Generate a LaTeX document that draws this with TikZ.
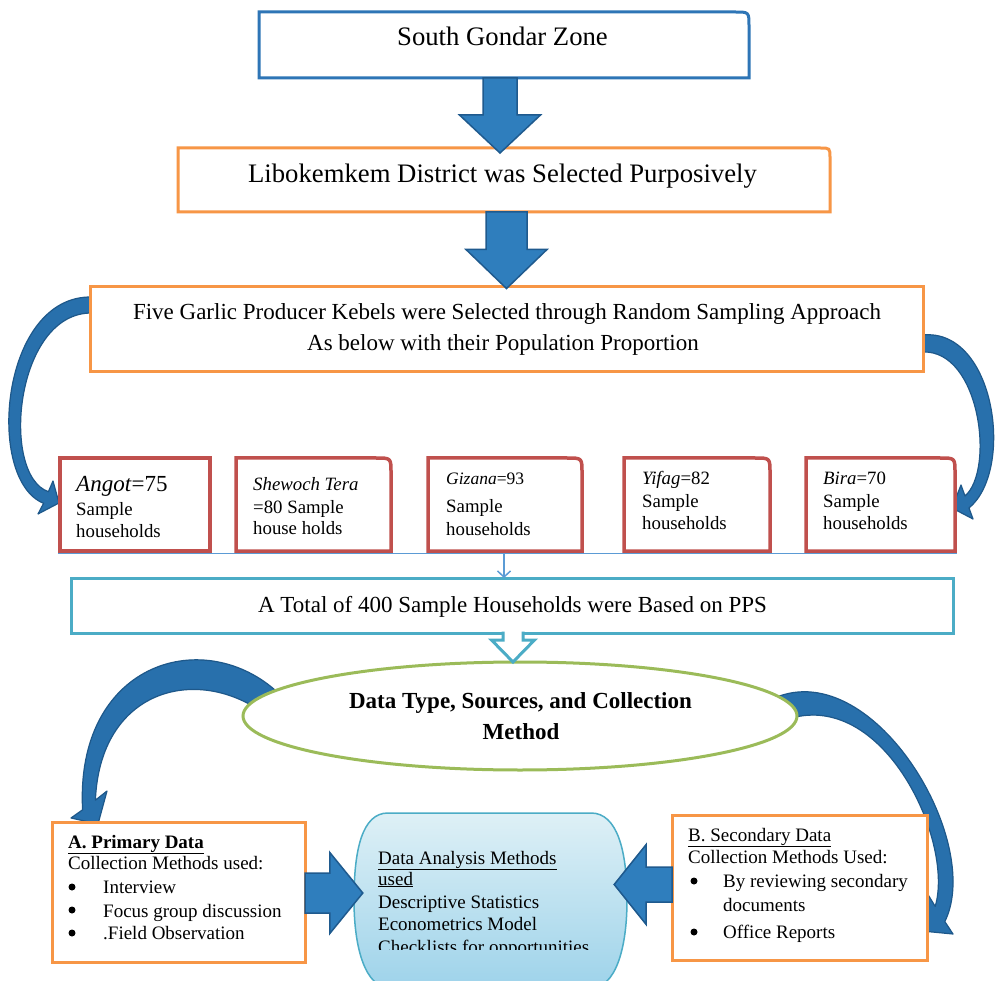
\documentclass[tikz,border=0pt]{standalone}
\usepackage{fontspec}
\setmainfont{Liberation Serif}
\usetikzlibrary{calc,shapes.geometric,arrows.meta}
\definecolor{cBlue}{RGB}{46,117,182}
\definecolor{cOrange}{RGB}{247,150,70}
\definecolor{cRed}{RGB}{192,80,77}
\definecolor{cCyan}{RGB}{75,172,198}
\definecolor{cGreen}{RGB}{155,187,89}
\definecolor{cArrFill}{RGB}{47,126,189}
\definecolor{cArrEdge}{RGB}{31,90,142}
\definecolor{cCurve}{RGB}{40,112,172}
\definecolor{cCurveEdge}{RGB}{30,88,138}
\definecolor{cThin}{RGB}{91,155,213}
\definecolor{cDaTop}{RGB}{222,240,246}
\definecolor{cDaBot}{RGB}{158,211,234}
\newcommand\fsBig{\fontsize{26.7}{32}\selectfont}
\newcommand\fsMid{\fontsize{23}{28}\selectfont}
\newcommand\fsSm{\fontsize{18.8}{22}\selectfont}
\newcommand\fsTx{\fontsize{19}{23}\selectfont}
\newcommand\blkdown[5]{%
 \filldraw[blkarrow] let \p1=(#1), \p2=(#2) in
 (\x2-#3,\y1) -- (\x2-#3,\y2+#5) -- (\x2-#4,\y2+#5) -- (\x2,\y2)
 -- (\x2+#4,\y2+#5) -- (\x2+#3,\y2+#5) -- (\x2+#3,\y1) -- cycle;}
\newcommand\blkright[5]{%
 \filldraw[blkarrow] let \p1=(#1), \p2=(#2) in
 (\x1,\y2+#3) -- (\x2-#5,\y2+#3) -- (\x2-#5,\y2+#4) -- (\x2,\y2)
 -- (\x2-#5,\y2-#4) -- (\x2-#5,\y2-#3) -- (\x1,\y2-#3) -- cycle;}
\newcommand\blkleft[5]{%
 \filldraw[blkarrow] let \p1=(#1), \p2=(#2) in
 (\x1,\y2+#3) -- (\x2+#5,\y2+#3) -- (\x2+#5,\y2+#4) -- (\x2,\y2)
 -- (\x2+#5,\y2-#4) -- (\x2+#5,\y2-#3) -- (\x1,\y2-#3) -- cycle;}
\newcommand\trborder[3]{%
 \draw[#2] (#1.south west) -- (#1.north west) -- ($(#1.north east)+(-#3,0)$)
 .. controls (#1.north east) .. ($(#1.north east)+(0,#3)$) -- (#1.south east) -- cycle;}
\begin{document}
\begin{tikzpicture}[x=1pt,y=-1pt,
  boxnode/.style={inner sep=0,outer sep=0,fill=white},
  blkarrow/.style={fill=cArrFill,draw=cArrEdge,line width=1.5,line join=miter},
  curvearrow/.style={fill=cCurve,draw=cCurveEdge,line width=1.2,line join=round},
  txt/.style={inner sep=0,anchor=base west},
  ctxt/.style={inner sep=0,anchor=base},
  bul/.style={circle,fill=black,inner sep=0,minimum size=7}]
\fill[white] (0,0) rectangle (999,981);
\useasboundingbox (0,0) rectangle (999,981);

% curved arrows from kebele box (drawn first, box covers their start)
\path[curvearrow] (92,297) .. controls (0,295) and (-15,480) .. (43.6,503.3)
  -- (38,514) -- (59,503) -- (53,481) -- (48.4,491.7)
  .. controls (0,475) and (15,312) .. (92,313) -- cycle;
\path[curvearrow] (923,335) .. controls (995,328) and (1015,470) .. (969,508)
  -- (973,519) -- (952,508) -- (961,485) -- (965,496)
  .. controls (995,470) and (980,350) .. (923,352) -- cycle;
% curved arrows from ellipse
\path[curvearrow] (275,690) .. controls (200,625) and (75,665) .. (82.6,809.8)
  -- (71,818) -- (98,824) -- (107,791) -- (95.4,800.2)
  .. controls (100,690) and (195,665) .. (262,712) -- cycle;
\path[curvearrow] (770,700) .. controls (870,650) and (985,840) .. (944.8,921.6)
  -- (953,934) -- (922,931) -- (927,893) -- (935.2,906.4)
  .. controls (955,840) and (880,680) .. (780,722) -- cycle;

% top boxes
\node[boxnode,minimum width=490,minimum height=66] (b1) at (504,45) {};
\trborder{b1}{cBlue,line width=3}{14}
\node[ctxt] (b1t) at (502.5,46) {\fsBig South Gondar Zone};

\node[boxnode,minimum width=652,minimum height=64] (b2) at (504,180) {};
\trborder{b2}{cOrange,line width=3}{10}
\node[ctxt] (b2t) at (502.5,183) {\fsBig Libokemkem District was Selected Purposively};

\node[boxnode,draw=cOrange,line width=3,minimum width=833,minimum height=85] (b3) at (506.5,329.5) {};
\node[ctxt] (b3t1) at (507,320) {\fsMid Five Garlic Producer Kebels were Selected through Random Sampling Approach};
\node[ctxt] (b3t2) at (503,351) {\fsMid As below with their Population Proportion};

\blkdown{b1.south}{$(b2.north)+(-4,5)$}{17}{40.5}{38}
\blkdown{b2.south}{$(b3.north)+(0,1.5)$}{20.5}{40.5}{39}

% kebele boxes
\node[boxnode,draw=cRed,line width=3.5,minimum width=150,minimum height=93] (k1) at (135,504.5) {};
\node[boxnode,minimum width=155,minimum height=93] (k2) at (313.5,504.5) {};
\trborder{k2}{cRed,line width=3.5}{15}
\node[boxnode,minimum width=154,minimum height=93] (k3) at (505,504.5) {};
\trborder{k3}{cRed,line width=3.5}{15}
\node[boxnode,minimum width=146,minimum height=93] (k4) at (697,504.5) {};
\trborder{k4}{cRed,line width=3.5}{15}
\node[boxnode,minimum width=149,minimum height=93] (k5) at (880.5,504.5) {};
\trborder{k5}{cRed,line width=3.5}{15}

\node[txt] (k1a) at (76,492) {\fsMid\textit{Angot}=75};
\node[txt] (k1b) at (76,515) {\fsSm Sample};
\node[txt] (k1c) at (76,537) {\fsSm households};
\node[txt] (k2a) at (253,490) {\fsSm\textit{Shewoch Tera}};
\node[txt] (k2b) at (253,513) {\fsSm =80 Sample};
\node[txt] (k2c) at (253,534) {\fsSm house holds};
\node[txt] (k3a) at (446,485) {\fontsize{17.5}{21}\selectfont\textit{Gizana}=93};
\node[txt] (k3b) at (446,512) {\fsSm Sample};
\node[txt] (k3c) at (446,535) {\fsSm households};
\node[txt] (k4a) at (642,485) {\fsSm\textit{Yifag}=82};
\node[txt] (k4b) at (642,507) {\fsSm Sample};
\node[txt] (k4c) at (642,529) {\fsSm households};
\node[txt] (k5a) at (823,485) {\fsSm\textit{Bira}=70};
\node[txt] (k5b) at (823,507) {\fsSm Sample};
\node[txt] (k5c) at (823,529) {\fsSm households};

% PPS box and thin connector
\node[boxnode,draw=cCyan,line width=3,minimum width=882,minimum height=55] (pps) at (512,605.5) {};
\node[ctxt] (ppst) at (512.5,612) {\fsMid A Total of 400 Sample Households were Based on PPS};
\coordinate (jn) at (504,553.5);
\draw[cThin,line width=1.5] ($(k1.south west)+(-2,2.5)$) -- ($(k5.south east)+(2,2.5)$);
\draw[cThin,line width=1.5,-{Straight Barb[length=6pt,width=13pt]}] (jn) -- (jn |- pps.north);

% ellipse
\node[ellipse,draw=cGreen,line width=3,fill=white,inner sep=0,minimum width=554,minimum height=108] (el) at (520,716) {};
\node[ctxt] (elt1) at (520.5,708) {\fsMid\bfseries Data Type, Sources, and Collection};
\node[ctxt] (elt2) at (521,739) {\fsMid\bfseries Method};

% hollow arrow PPS -> ellipse
\path[fill=white] let \p1=($(pps.south)+(1,-3)$), \p2=($(pps.south |- el.north)+(1,1.5)$) in
  (\x2-10,\y1) -- (\x2-10,\y2+22) -- (\x2-21.5,\y2+22) -- (\x2,\y2)
  -- (\x2+21.5,\y2+22) -- (\x2+10,\y2+22) -- (\x2+10,\y1) -- cycle;
\draw[cCyan,line width=3,line join=miter] let \p1=($(pps.south)+(1,-1.5)$), \p2=($(pps.south |- el.north)+(1,1.5)$) in
  (\x2-10,\y1) -- (\x2-10,\y2+22) -- (\x2-21.5,\y2+22) -- (\x2,\y2)
  -- (\x2+21.5,\y2+22) -- (\x2+10,\y2+22) -- (\x2+10,\y1);

% data analysis shape
\path[draw=cCyan,line width=1.5,top color=cDaTop,bottom color=cDaBot]
  (388,813) -- (591,813) .. controls (617,813) and (627,850) .. (627,900)
  .. controls (627,950) and (615,988) .. (591,988) -- (390,988)
  .. controls (366,988) and (354,950) .. (354,900)
  .. controls (354,850) and (362,813) .. (388,813) -- cycle;
\node[inner sep=0,minimum width=273,minimum height=175] (da) at (490.5,900.5) {};
\node[txt] (da1) at (378,864) {\fsTx\underline{Data Analysis Methods}};
\node[txt] (da2) at (378,885) {\fsTx\underline{used}};
\node[txt] (da3) at (378,908) {\fsTx Descriptive Statistics};
\node[txt] (da4) at (378,930) {\fsTx Econometrics Model};
\begin{scope}
\clip (340,900) rectangle (640,949);
\node[txt] (da5) at (378,953) {\fsTx Checklists for opportunities};
\end{scope}

% primary data box
\node[boxnode,draw=cOrange,line width=3,minimum width=253,minimum height=140] (prim) at (178.5,892) {};
\node[txt] (p1) at (68,848) {\fsTx\textbf{\underline{A. Primary Data}}};
\node[txt] (p2) at (68,869) {\fsTx Collection Methods used:};
\node[bul] (p3b) at (72,887) {};
\node[txt] (p3) at (103,893) {\fsTx Interview};
\node[bul] (p4b) at (72,910) {};
\node[txt] (p4) at (103,917) {\fsTx Focus group discussion};
\node[bul] (p5b) at (72,933) {};
\node[txt] (p5) at (103,939) {\fsTx .Field Observation};

% secondary data box
\node[boxnode,draw=cOrange,line width=3,minimum width=255,minimum height=145] (sec) at (799.5,887.5) {};
\node[txt] (s1) at (688,841) {\fsTx\underline{B. Secondary Data}};
\node[txt] (s2) at (688,863) {\fsTx Collection Methods Used:};
\node[bul] (s3b) at (694,881) {};
\node[txt] (s3) at (723,887) {\fsTx By reviewing secondary};
\node[txt] (s4) at (723,911) {\fsTx documents};
\node[bul] (s5b) at (694,932) {};
\node[txt] (s5) at (723,938) {\fsTx Office Reports};

% block arrows into data analysis
\blkright{prim.east}{$(da.west)+(9,-7.5)$}{20}{40.5}{33}
\blkleft{sec.west}{$(da.east)+(-13,-16)$}{17.5}{40}{32}
\end{tikzpicture}
\end{document}
